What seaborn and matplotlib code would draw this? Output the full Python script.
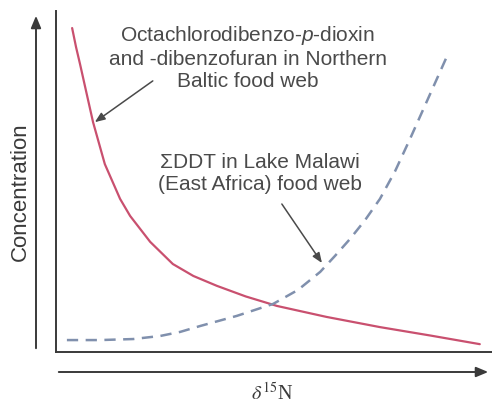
import matplotlib
matplotlib.use("Agg")
import matplotlib.pyplot as plt
from matplotlib.patches import FancyArrowPatch
import seaborn as sns
import pandas as pd

# Trophic position (arbitrary δ15N scale) and relative concentration
dioxin_x = [3.7, 4.6, 5.5, 6.9, 8.5, 11.2, 14.7, 17.0, 21.6, 26.8, 31.5, 36.9, 43.5, 50.7, 62.0, 74.3, 86.0, 97.2]
dioxin_y = [95.0, 89.4, 84.5, 76.5, 67.4, 55.1, 44.9, 39.9, 32.3, 25.8, 22.3, 19.4, 16.3, 13.5, 10.3, 7.3, 4.8, 2.3]

ddt_x = [2.5, 10.1, 17.7, 23.9, 28.5, 33.0, 41.5, 49.8, 55.5, 60.6, 64.0, 67.4, 70.9, 74.3, 77.8, 81.2, 85.3, 89.7]
ddt_y = [3.5, 3.5, 3.8, 4.7, 5.9, 7.6, 10.6, 14.1, 18.2, 23.5, 28.2, 33.1, 38.7, 44.9, 53.1, 62.5, 74.2, 86.8]

dioxin_label = "Octachlorodibenzo-$p$-dioxin\nand -dibenzofuran in Northern\nBaltic food web"
ddt_label = "ΣDDT in Lake Malawi\n(East Africa) food web"
y_label = "Concentration"
x_label = "$\\delta^{15}$N"

sns.set_theme(style="white")
plt.rcParams["font.family"] = ["Liberation Sans", "DejaVu Sans"]
plt.rcParams["mathtext.fontset"] = "custom"
plt.rcParams["mathtext.rm"] = "Liberation Sans"
plt.rcParams["mathtext.it"] = "Liberation Sans:italic"

W, H = 492, 406
ink = "#3a3a3a"
text_ink = "#4a4a4a"

fig = plt.figure(figsize=(W / 100, H / 100), dpi=100)
ax = fig.add_axes([56 / W, 1 - 353 / H, 436 / W, 341 / H])

dioxin = pd.DataFrame({"x": dioxin_x, "y": dioxin_y})
ddt = pd.DataFrame({"x": ddt_x, "y": ddt_y})

sns.lineplot(data=dioxin, x="x", y="y", ax=ax, sort=False, estimator=None,
             color="#c9506f", linewidth=1.6)
sns.lineplot(data=ddt, x="x", y="y", ax=ax, sort=False, estimator=None,
             color="#8090ad", linewidth=1.8, linestyle=(0, (4.5, 3)))

ax.set_xlim(0, 100)
ax.set_ylim(0, 100)
ax.set_xticks([])
ax.set_yticks([])
ax.set_xlabel("")
ax.set_ylabel("")
sns.despine(ax=ax)
for s in ("left", "bottom"):
    ax.spines[s].set_color(ink)
    ax.spines[s].set_linewidth(1.4)

# Separate direction arrows beside the axes
arrow_kw = dict(arrowstyle="-|>,head_length=0.6,head_width=0.25", color=ink, lw=1.4,
                mutation_scale=12, transform=fig.transFigure)
fig.add_artist(FancyArrowPatch((36 / W, 1 - 352 / H), (36 / W, 1 - 14 / H), **arrow_kw))
fig.add_artist(FancyArrowPatch((56 / W, 1 - 373 / H), (491 / W, 1 - 373 / H), **arrow_kw))

fig.text(20 / W, 1 - 192 / H, y_label, rotation=90, ha="center", va="center",
         fontsize=16, color=ink)
fig.text(272 / W, 1 - 394 / H, x_label, ha="center", va="center",
         fontsize=14.5, color=ink, family=["Liberation Serif"], math_fontfamily="stix")

# Curve labels with leader arrows
ax.text(44.0, 86.8, dioxin_label, ha="center", va="center", fontsize=15,
        color=text_ink, linespacing=1.2)
ax.text(46.8, 52.5, ddt_label, ha="center", va="center", fontsize=15,
        color=text_ink, linespacing=1.2)

lead_kw = dict(arrowstyle="-|>,head_length=0.5,head_width=0.2", color=text_ink,
               lw=1.1, shrinkA=0, shrinkB=0)
ax.annotate("", xy=(8.9, 67.4), xytext=(22.2, 79.5), arrowprops=lead_kw)
ax.annotate("", xy=(61.0, 26.1), xytext=(51.8, 43.4), arrowprops=lead_kw)

fig.savefig("out.png", dpi=100, facecolor="white")
